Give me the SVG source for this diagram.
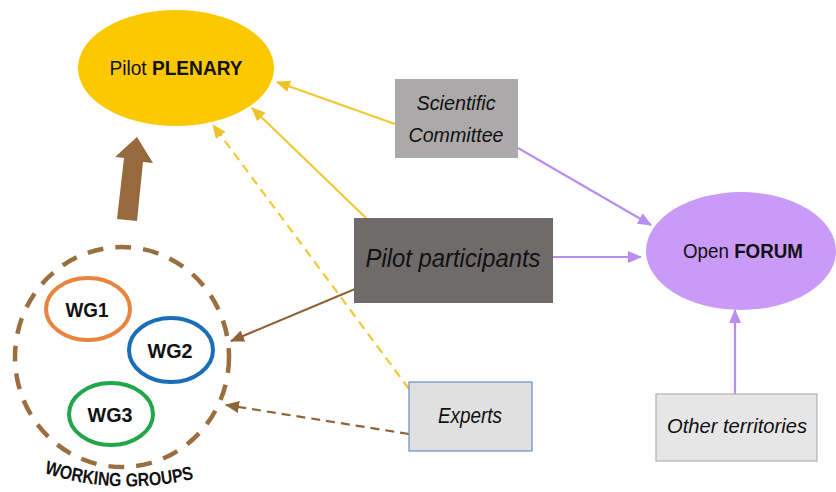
<svg xmlns="http://www.w3.org/2000/svg" width="836" height="492" viewBox="0 0 836 492">
<style>
.lbl{font-family:"Liberation Sans",Arial,sans-serif;fill:#111;}
.it{font-style:italic;}
.b{font-weight:bold;}
.yl{stroke:#F0C933;stroke-width:2.2;fill:none;}
.pl{stroke:#B98EF2;stroke-width:2.2;fill:none;}
.br{stroke:#8E6438;stroke-width:2.2;fill:none;}
</style>
<defs>
<marker id="ay" markerUnits="userSpaceOnUse" markerWidth="14" markerHeight="12" refX="13" refY="6" orient="auto"><path d="M0,0 L14,6 L0,12 Z" fill="#F0C22A"/></marker>
<marker id="ap" markerUnits="userSpaceOnUse" markerWidth="14" markerHeight="12" refX="13" refY="6" orient="auto"><path d="M0,0 L14,6 L0,12 Z" fill="#B98EF2"/></marker>
<marker id="ab" markerUnits="userSpaceOnUse" markerWidth="14" markerHeight="12" refX="13" refY="6" orient="auto"><path d="M0,0 L14,6 L0,12 Z" fill="#8E6438"/></marker>
<path id="wgarc" d="M 44 473 Q 118 497 198 478"/>
</defs>
<rect width="836" height="492" fill="#fff"/>

<g id="connectors">
<line class="yl" x1="395" y1="124" x2="277" y2="82" marker-end="url(#ay)"/>
<line class="yl" x1="366" y1="218" x2="252" y2="108" marker-end="url(#ay)"/>
<line class="yl" x1="409" y1="389" x2="213" y2="125" stroke-dasharray="9 6" marker-end="url(#ay)"/>
<line class="pl" x1="518" y1="148" x2="651" y2="225" marker-end="url(#ap)"/>
<line class="pl" x1="553" y1="257" x2="641" y2="257" marker-end="url(#ap)"/>
<line class="pl" x1="735" y1="394" x2="735" y2="310" marker-end="url(#ap)"/>
<line class="br" x1="355" y1="289" x2="231" y2="341" marker-end="url(#ab)"/>
<line class="br" x1="409" y1="434" x2="226" y2="405" stroke-dasharray="9 6" marker-end="url(#ab)"/>
<polygon points="137,137 153,163 143,162 137,221 117,219 124,158 115,157" fill="#976A3E"/>
</g>

<g id="plenary">
<ellipse cx="176" cy="68" rx="98" ry="58" fill="#FCC900"/>
<text class="lbl" x="176" y="75" font-size="21" text-anchor="middle" textLength="133" lengthAdjust="spacingAndGlyphs">Pilot <tspan class="b">PLENARY</tspan></text>
</g>

<g id="working-groups">
<ellipse cx="122" cy="357" rx="107" ry="110" fill="none" stroke="#9A6E3F" stroke-width="4.5" stroke-dasharray="16 12"/>
<text class="lbl b" font-size="19"><textPath href="#wgarc" textLength="152" lengthAdjust="spacingAndGlyphs">WORKING GROUPS</textPath></text>
</g>

<g id="wg1">
<ellipse cx="88" cy="309" rx="42" ry="31" fill="none" stroke="#E8843E" stroke-width="4"/>
<text class="lbl b" x="87" y="317" font-size="20" text-anchor="middle" textLength="43" lengthAdjust="spacingAndGlyphs">WG1</text>
</g>
<g id="wg2">
<ellipse cx="171" cy="350" rx="42" ry="32" fill="none" stroke="#1A6EB8" stroke-width="4"/>
<text class="lbl b" x="170" y="358" font-size="20" text-anchor="middle" textLength="45" lengthAdjust="spacingAndGlyphs">WG2</text>
</g>
<g id="wg3">
<ellipse cx="111" cy="414" rx="42" ry="31" fill="none" stroke="#22A64A" stroke-width="4"/>
<text class="lbl b" x="110" y="422" font-size="20" text-anchor="middle" textLength="45" lengthAdjust="spacingAndGlyphs">WG3</text>
</g>

<g id="scientific-committee">
<rect x="395" y="79" width="123" height="79" fill="#ABA9A9"/>
<text class="lbl it" x="456" y="110" font-size="21" text-anchor="middle" textLength="79" lengthAdjust="spacingAndGlyphs">Scientific</text>
<text class="lbl it" x="456" y="142" font-size="21" text-anchor="middle" textLength="95" lengthAdjust="spacingAndGlyphs">Committee</text>
</g>

<g id="pilot-participants">
<rect x="354" y="218" width="199" height="85" fill="#6F6B6B"/>
<text class="lbl it" x="453" y="267" font-size="25" text-anchor="middle" textLength="175" lengthAdjust="spacingAndGlyphs">Pilot participants</text>
</g>

<g id="open-forum">
<ellipse cx="741" cy="251" rx="95" ry="59" fill="#C99AF7"/>
<text class="lbl" x="743" y="258" font-size="20" text-anchor="middle" textLength="120" lengthAdjust="spacingAndGlyphs">Open <tspan class="b">FORUM</tspan></text>
</g>

<g id="experts">
<rect x="409" y="382" width="123" height="69" fill="#E0E0E0" stroke="#6A8CC0" stroke-width="1.2"/>
<text class="lbl it" x="470" y="423" font-size="22" text-anchor="middle" textLength="64" lengthAdjust="spacingAndGlyphs">Experts</text>
</g>

<g id="other-territories">
<rect x="656" y="394" width="161" height="67" fill="#E6E6E6" stroke="#B0B0B0" stroke-width="1.2"/>
<text class="lbl it" x="737" y="433" font-size="21" text-anchor="middle" textLength="140" lengthAdjust="spacingAndGlyphs">Other territories</text>
</g>
</svg>
